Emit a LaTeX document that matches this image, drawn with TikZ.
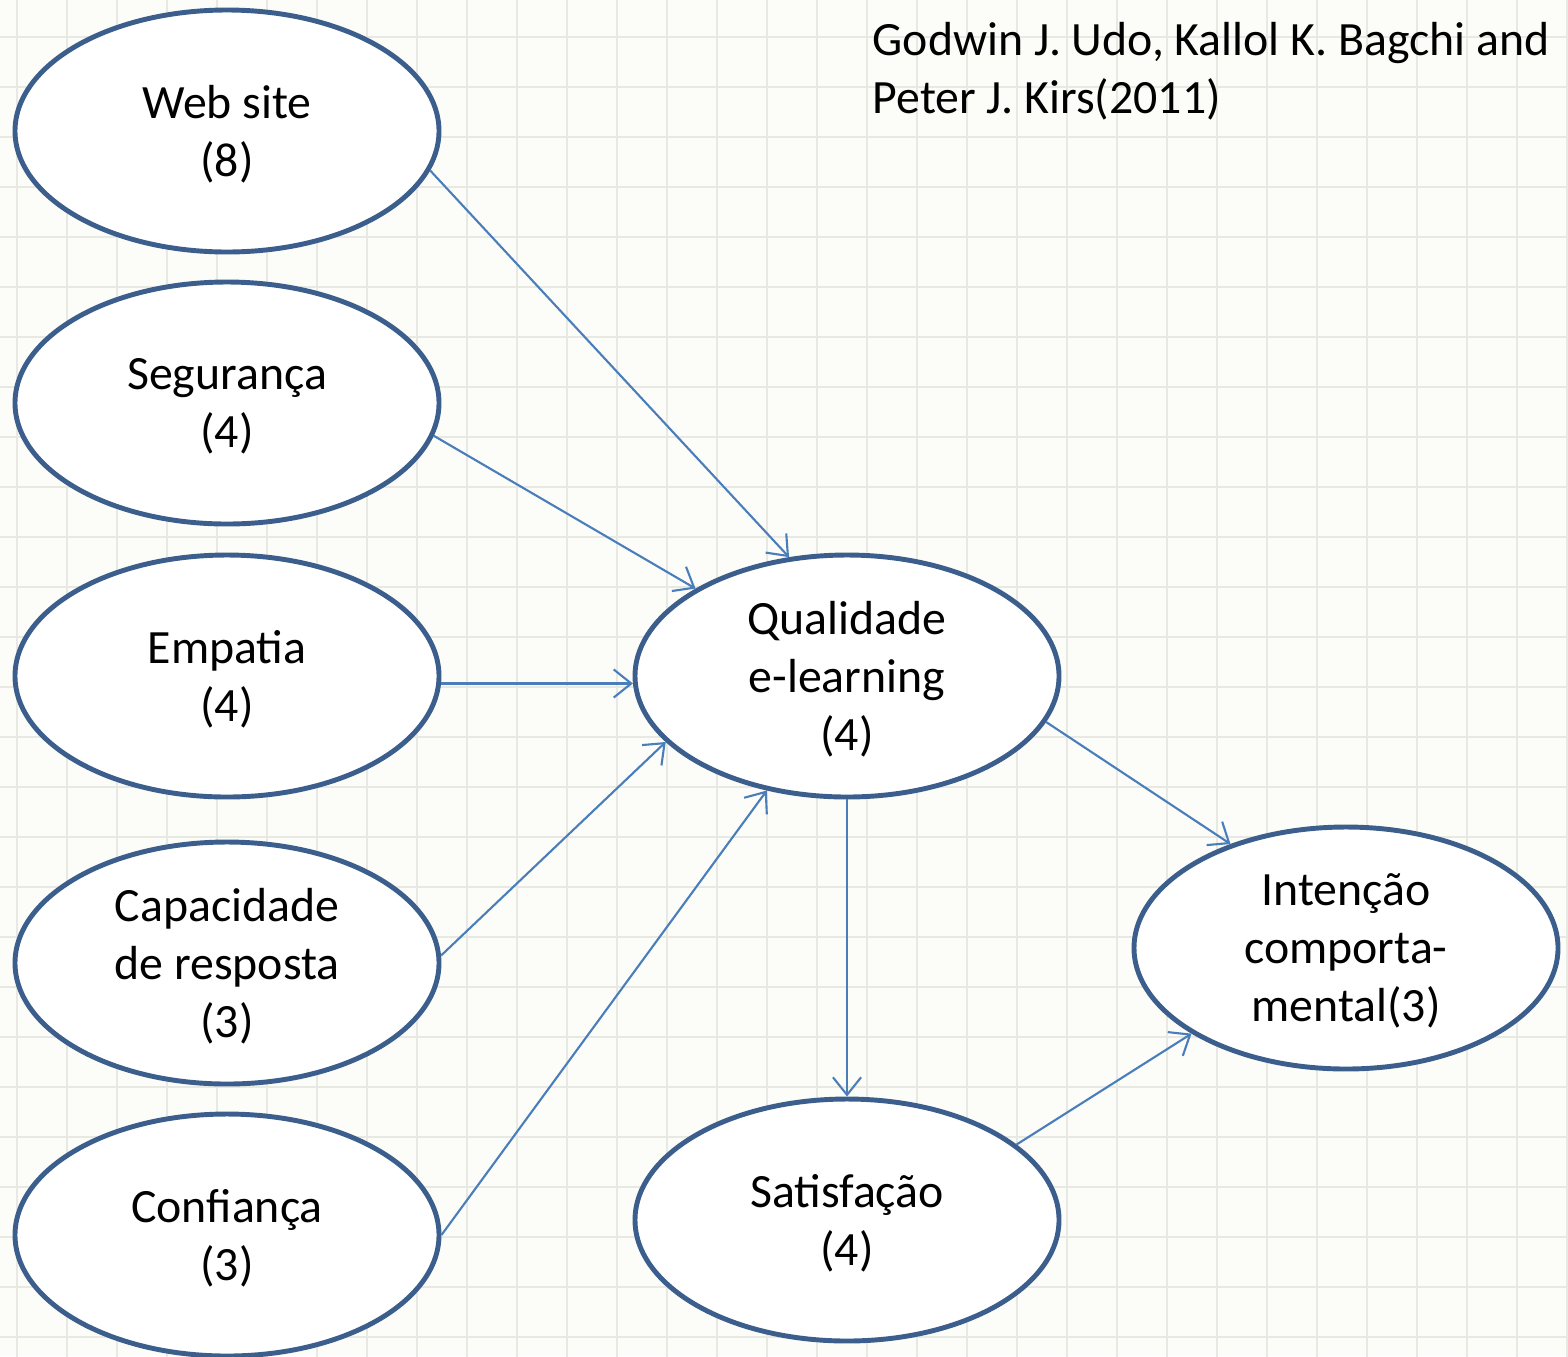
\documentclass[tikz,border=0pt]{standalone}
\usepackage{fontspec}
\setmainfont{Carlito}
\usetikzlibrary{shapes.geometric,arrows.meta}
\definecolor{factorblue}{RGB}{59,94,140}
\definecolor{linkblue}{RGB}{74,126,187}
\definecolor{paper}{RGB}{252,252,248}
\definecolor{gridgray}{RGB}{233,233,227}

\begin{document}
\begin{tikzpicture}[every node/.style={font=\fontsize{13.6}{16.5}\selectfont},
    factor/.style={ellipse,draw=factorblue,line width=1.4pt,fill=white,
        minimum width=4.24cm,minimum height=2.42cm,inner sep=0pt,align=center,
        text depth=0pt},
    link/.style={draw=linkblue,line width=0.6pt,-{Straight Barb[length=5pt,width=8pt]}}]
    % paper with grid
    \clip (0,0) rectangle (15.68,-13.56);
    \fill[paper] (0,0) rectangle (15.68,-13.56);
    \draw[gridgray,line width=0.5pt,xshift=0.17cm,yshift=-0.37cm] (-1,-14) grid[step=0.5] (16,1);

    % left column
    \foreach \name/\y/\txt in {web/1.31/{Web site\\(8)}, seg/4.03/{Segurança\\(4)},
        emp/6.76/{Empatia\\(4)}, cap/9.63/{Capacidade\\de resposta\\(3)}, conf/12.35/{Confiança\\(3)}}
        \node[factor] (\name) at (2.27,-\y) {\txt};

    \node[factor] (qual) at (8.47,-6.76) {Qualidade\\e-learning\\(4)};
    \node[factor] (sat) at (8.47,-12.20) {Satisfação\\(4)};
    \node[factor] (int) at (13.46,-9.48) {Intenção\\comporta-\\mental(3)};

    \node[anchor=north west,inner sep=0pt,align=left] (ref) at (8.72,-0.22)
        {Godwin J. Udo, Kallol K. Bagchi and\\Peter J. Kirs(2011)};

    \foreach \a/\b in {web.-11.5/qual.116, seg.-9/qual.150, emp.-2/qual.182,
        cap.2/qual.200, conf.0/qual.235.6, qual.south/sat.north,
        qual.-13/int.138.5, sat.24/int.209.5}
        \draw[link] (\a) -- (\b);
\end{tikzpicture}
\end{document}
